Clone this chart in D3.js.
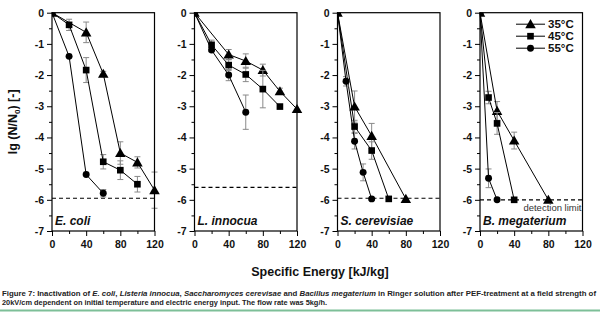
<!DOCTYPE html>
<html>
<head>
<meta charset="utf-8">
<script src="https://cdn.jsdelivr.net/npm/d3@7/dist/d3.min.js"></script>
<style>
  html, body { margin: 0; padding: 0; background: #fff; }
  svg { display: block; font-family: "Liberation Sans", Arial, sans-serif; }
</style>
</head>
<body>
<svg id="chart" width="600" height="328"></svg>
<script>
// Inactivation data: [energy kJ/kg, lg(N/N0), error]
const species = ["E. coli", "L. innocua", "S. cerevisiae", "B. megaterium"];
const temperatures = ["35°C", "45°C", "55°C"];
const detectionLimit = [-5.95, -5.6, -5.95, -6.0];

const eColi35 = [[0, 0, 0], [40, -0.63, 0.33], [60, -1.96, 0.08], [80, -4.5, 0.36], [100, -4.8, 0.18], [120, -5.69, 0.58]];
const eColi45 = [[0, 0, 0], [20, -0.39, 0.18], [40, -1.84, 0.4], [60, -4.78, 0.23], [80, -5.05, 0.3], [100, -5.5, 0.25]];
const eColi55 = [[0, 0, 0], [20, -1.4, 0], [40, -5.19, 0], [60, -5.79, 0.12]];

const lInnocua35 = [[0, 0, 0], [40, -1.34, 0.16], [60, -1.55, 0.23], [80, -1.84, 0.19], [100, -2.52, 0.1], [120, -3.09, 0]];
const lInnocua45 = [[0, 0, 0], [20, -1.03, 0.15], [40, -1.68, 0.17], [60, -1.98, 0.23], [80, -2.45, 0.6], [100, -3.01, 0]];
const lInnocua55 = [[0, 0, 0], [20, -1.2, 0.05], [40, -2.0, 0.18], [60, -3.19, 0.55]];

const sCerevisiae35 = [[0, 0, 0], [20, -3.01, 0.5], [40, -3.95, 0.4], [80, -5.97, 0]];
const sCerevisiae45 = [[0, 0, 0], [20, -3.65, 0.2], [40, -4.42, 0.28], [60, -5.97, 0]];
const sCerevisiae55 = [[0, 0, 0], [10, -2.2, 0.15], [20, -4.12, 0.25], [30, -5.12, 0.27], [40, -5.97, 0]];

const bMegaterium35 = [[0, 0, 0], [20, -3.15, 0.3], [40, -4.1, 0.27], [80, -6.0, 0]];
const bMegaterium45 = [[0, 0, 0], [10, -2.72, 0.2], [20, -3.55, 0.35], [40, -6.0, 0]];
const bMegaterium55 = [[0, 0, 0], [10, -5.31, 0.3], [20, -6.0, 0]];

const panelSeries = [
  [eColi35, eColi45, eColi55],
  [lInnocua35, lInnocua45, lInnocua55],
  [sCerevisiae35, sCerevisiae45, sCerevisiae55],
  [bMegaterium35, bMegaterium45, bMegaterium55]
];

const xMajorTicks = [0, 40, 80, 120];
const xMinorTicks = [20, 60, 100];
const yMajorTicks = [0, -1, -2, -3, -4, -5, -6, -7];
const yMinorTicks = [-0.5, -1.5, -2.5, -3.5, -4.5, -5.5, -6.5];

const svg = d3.select("#chart");

// Panel geometry
const panelLeft = [52, 194.5, 337.5, 480];
const panelW = 102.5;
const plotTop = 12.7, plotBottom = 231;
const panelH = plotBottom - plotTop;

const x = d3.scaleLinear().domain([0, 120]).range([0, panelW]);
const y = d3.scaleLinear().domain([-7, 0]).range([panelH, 0]);

const symbols = [d3.symbolTriangle, d3.symbolSquare, d3.symbolCircle];
const symbolSizes = [48, 44, 38];
const symbolGen = (i) => d3.symbol().type(symbols[i]).size(symbolSizes[i]);

panelSeries.forEach((seriesSet, p) => {
  const g = svg.append("g").attr("transform", `translate(${panelLeft[p]},${plotTop})`);

  const clipId = "clip" + p;
  g.append("clipPath").attr("id", clipId)
    .append("rect").attr("x", 0).attr("y", 0).attr("width", panelW).attr("height", panelH);

  // Axes with major and minor ticks
  const yAxis = g.append("g")
    .call(d3.axisLeft(y).tickValues(yMajorTicks).tickSize(5).tickSizeOuter(0).tickFormat(d3.format("d")));
  g.append("g")
    .call(d3.axisLeft(y).tickValues(yMinorTicks).tickSize(3).tickSizeOuter(0).tickFormat(""));
  const xAxis = g.append("g").attr("transform", `translate(0,${panelH})`)
    .call(d3.axisBottom(x).tickValues(xMajorTicks).tickSize(5).tickSizeOuter(0));
  g.append("g").attr("transform", `translate(0,${panelH})`)
    .call(d3.axisBottom(x).tickValues(xMinorTicks).tickSize(3).tickSizeOuter(0).tickFormat(""));

  g.selectAll(".domain").remove();
  g.selectAll(".tick line").attr("stroke", "#000").attr("stroke-width", 1);
  yAxis.selectAll("text")
    .attr("font-size", 10.5).attr("font-weight", "bold").attr("fill", "#111")
    .attr("x", -8).text(d => d === 0 ? "0" : "-" + Math.abs(d));
  xAxis.selectAll("text")
    .attr("font-size", 10.5).attr("font-weight", "bold").attr("fill", "#111").attr("dy", "0.9em");

  // Detection limit
  g.append("line")
    .attr("x1", 0).attr("x2", panelW)
    .attr("y1", y(detectionLimit[p])).attr("y2", y(detectionLimit[p]))
    .attr("stroke", "#000").attr("stroke-width", 1.2).attr("stroke-dasharray", "4,3");

  const plot = g.append("g").attr("clip-path", `url(#${clipId})`);
  const over = g.append("g");

  seriesSet.forEach((data, s) => {
    // Error bars
    const eb = over.append("g").attr("stroke", "#8a8a8a").attr("stroke-width", 1);
    data.filter(d => d[2] > 0).forEach(d => {
      const cx = x(d[0]), y1 = y(d[1] + d[2]), y2 = y(d[1] - d[2]);
      eb.append("line").attr("x1", cx).attr("x2", cx).attr("y1", y1).attr("y2", y2);
      eb.append("line").attr("x1", cx - 3).attr("x2", cx + 3).attr("y1", y1).attr("y2", y1);
      eb.append("line").attr("x1", cx - 3).attr("x2", cx + 3).attr("y1", y2).attr("y2", y2);
    });

    over.append("path")
      .datum(data)
      .attr("fill", "none").attr("stroke", "#000").attr("stroke-width", 1)
      .attr("d", d3.line().x(d => x(d[0])).y(d => y(d[1])));

    data.forEach(d => {
      const target = d[0] === 0 ? plot : over;
      target.append("path")
        .attr("transform", `translate(${x(d[0])},${y(d[1]) + (s === 0 ? 1 : 0)})`)
        .attr("d", symbolGen(s)())
        .attr("fill", "#000");
    });
  });

  // Frame
  g.append("rect")
    .attr("x", 0).attr("y", 0).attr("width", panelW).attr("height", panelH)
    .attr("fill", "none").attr("stroke", "#000").attr("stroke-width", 1.2);

  // Species name
  g.append("text")
    .attr("x", 3).attr("y", panelH - 6)
    .attr("font-size", 12).attr("font-weight", "bold").attr("font-style", "italic")
    .attr("fill", "#111")
    .text(species[p]);

  if (p === 3) {
    g.append("text")
      .attr("x", panelW - 1).attr("y", y(detectionLimit[p]) + 11)
      .attr("text-anchor", "end")
      .attr("font-size", 9.5).attr("fill", "#333")
      .text("detection limit");

    // Legend
    const legend = g.append("g");
    temperatures.forEach((t, i) => {
      const ly = 11.5 + i * 12;
      const row = legend.append("g").attr("transform", `translate(36,${ly})`);
      row.append("line").attr("x1", 0).attr("x2", 29).attr("y1", 0).attr("y2", 0)
        .attr("stroke", "#000").attr("stroke-width", 1);
      row.append("path").attr("transform", `translate(14.5,${i === 0 ? 1 : 0})`)
        .attr("d", symbolGen(i)()).attr("fill", "#000");
      row.append("text").attr("x", 32).attr("y", 0).attr("dy", "0.36em")
        .attr("font-size", 11.5).attr("font-weight", "bold").attr("fill", "#111")
        .text(t);
    });
  }
});

// Axis titles
svg.append("text")
  .attr("transform", `translate(17,${plotTop + panelH / 2}) rotate(-90)`)
  .attr("text-anchor", "middle")
  .attr("font-size", 12.5).attr("font-weight", "bold").attr("fill", "#111")
  .call(t => {
    t.append("tspan").text("lg (N/N");
    t.append("tspan").attr("font-size", 8).attr("dy", 3).text("0");
    t.append("tspan").attr("dy", -3).text(") [-]");
  });

svg.append("text")
  .attr("x", 320).attr("y", 276)
  .attr("text-anchor", "middle")
  .attr("font-size", 12.5).attr("font-weight", "bold").attr("fill", "#111")
  .text("Specific Energy [kJ/kg]");

// Caption
const cap1 = svg.append("text").attr("x", 2).attr("y", 296)
  .attr("font-size", 7.8).attr("font-weight", "bold").attr("fill", "#222")
  .attr("textLength", 594).attr("lengthAdjust", "spacingAndGlyphs");
[["Figure 7: Inactivation of ", false], ["E. coli", true], [", ", false], ["Listeria innocua", true],
 [", ", false], ["Saccharomyces cerevisae", true], [" and ", false], ["Bacillus megaterium", true],
 [" in Ringer solution after PEF-treatment at a field strength of", false]].forEach(([s, it]) => {
  cap1.append("tspan").attr("font-style", it ? "italic" : "normal").text(s);
});
svg.append("text").attr("x", 2).attr("y", 304.5)
  .attr("font-size", 7.8).attr("font-weight", "bold").attr("fill", "#222")
  .attr("textLength", 325).attr("lengthAdjust", "spacingAndGlyphs")
  .text("20kV/cm dependent on initial temperature and electric energy input. The flow rate was 5kg/h.");

svg.append("line")
  .attr("x1", 0).attr("x2", 600).attr("y1", 310.5).attr("y2", 310.5)
  .attr("stroke", "#7dbf98").attr("stroke-width", 2);
</script>
</body>
</html>
